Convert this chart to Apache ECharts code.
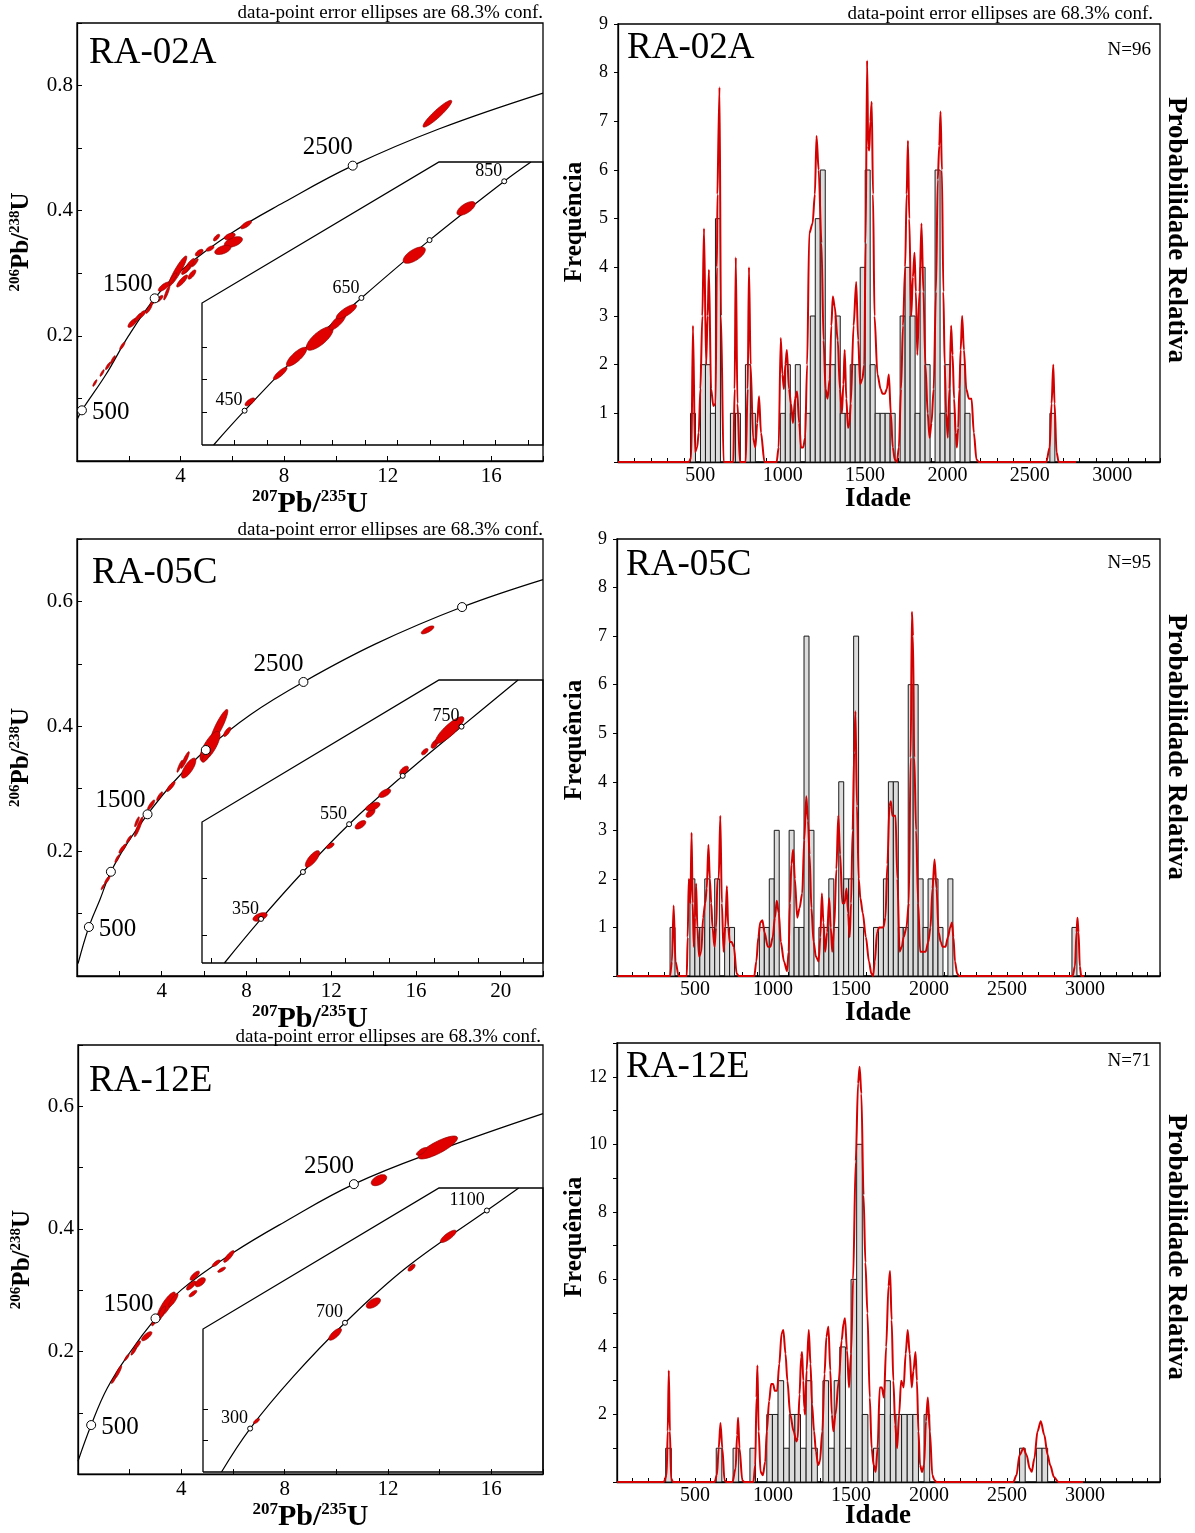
<!DOCTYPE html>
<html><head><meta charset="utf-8">
<script src="https://cdn.jsdelivr.net/npm/echarts@6/dist/echarts.min.js"></script>
<style>html,body{margin:0;padding:0;background:#fff}#c{width:1195px;height:1533px}</style>
</head><body><div id="c"></div>
<script>
// ================= DATA =================
const sampleNames = ['RA-02A', 'RA-05C', 'RA-12E'];
const sampleN = ['N=96', 'N=95', 'N=71'];
const noteText = 'data-point error ellipses are 68.3% conf.';
const xTitleParts = ['207', 'Pb/', '235', 'U'];
const yTitleParts = ['206', 'Pb/', '238', 'U'];
const freqTitle = 'Frequência';
const probTitle = 'Probabilidade Relativa';
const ageTitle = 'Idade';

// ---- Concordia diagrams (main) : [207Pb/235U, 206Pb/238U]
const l1Concordia = [[0,0.066],[0.19,0.081],[1.13,0.139],[1.99,0.2],[3.0,0.26],[4.01,0.304],[6.0,0.365],[7.98,0.413],[10.65,0.472],[14.0,0.531],[18.0,0.588]];
const l2Concordia = [[0.05,0.02],[0.56,0.0785],[1.09,0.123],[1.6,0.167],[2.4,0.214],[3.33,0.259],[4.6,0.312],[6.08,0.362],[8.2,0.419],[10.69,0.471],[14.1,0.532],[18.18,0.591],[22,0.635]];
const l3Concordia = [[0,0.021],[0.51,0.08],[1.13,0.14],[2.0,0.198],[3.0,0.254],[4.01,0.301],[6.0,0.361],[7.98,0.411],[10.68,0.473],[14.0,0.529],[18.0,0.588]];
// markers [x, y, age Ma]
const l1Markers = [[0.19,0.081,500],[3.0,0.26,1500],[10.65,0.472,2500]];
const l2Markers = [[0.56,0.0785,500],[1.6,0.167,1000],[3.33,0.259,1500],[6.08,0.362,2000],[10.69,0.471,2500],[18.18,0.591,3000]];
const l3Markers = [[0.51,0.08,500],[3.0,0.254,1500],[10.68,0.473,2500]];
const l1LabeledAges = [500,1500,2500];
const l2LabeledAges = [500,1500,2500];
const l3LabeledAges = [500,1500,2500];
// ellipses [x, y, sx, sy, rho]
const l1Ellipses = [[13.92,0.555,0.556,0.0214,0.93],[6.53,0.3775,0.21,0.0063,0.75],[6.04,0.350,0.35,0.0085,0.5],[5.63,0.3374,0.31,0.0074,0.5],[5.39,0.357,0.12,0.0053,0.7],[5.9,0.359,0.21,0.0053,0.5],[5.14,0.3396,0.15,0.0042,0.6],[3.89,0.3037,0.35,0.024,0.92],[4.33,0.3118,0.21,0.0118,0.85],[4.44,0.298,0.15,0.0074,0.75],[4.06,0.2877,0.21,0.0096,0.85],[3.36,0.2786,0.22,0.0074,0.75],[3.47,0.269,0.12,0.0118,0.9],[3.19,0.2594,0.13,0.0053,0.75],[2.15,0.2209,0.18,0.0074,0.75],[2.5,0.234,0.15,0.0063,0.75],[2.78,0.2433,0.12,0.0074,0.85],[1.39,0.162,0.09,0.0063,0.85],[0.97,0.1406,0.08,0.0053,0.85],[0.69,0.1246,0.08,0.0053,0.85],[4.72,0.333,0.15,0.0053,0.6],[4.56,0.317,0.12,0.0063,0.85],[1.2,0.152,0.1,0.006,0.85],[1.75,0.184,0.1,0.006,0.85],[2.35,0.229,0.13,0.0065,0.8],[2.95,0.256,0.13,0.008,0.85],[3.7,0.292,0.15,0.009,0.85],[4.2,0.306,0.16,0.008,0.8]];
const l2Ellipses = [[16.55,0.5544,0.30,0.0064,0.75],[6.7,0.400,0.42,0.027,0.9],[6.28,0.368,0.47,0.024,0.75],[7.09,0.391,0.17,0.0074,0.75],[6.1,0.352,0.2,0.0097,0.75],[5.27,0.333,0.34,0.016,0.75],[5.1,0.346,0.2,0.0134,0.9],[4.85,0.336,0.13,0.0097,0.9],[4.43,0.3035,0.2,0.008,0.85],[3.5,0.274,0.17,0.008,0.85],[2.91,0.239,0.2,0.016,0.92],[2.83,0.247,0.11,0.008,0.85],[2.15,0.204,0.17,0.0074,0.85],[1.9,0.188,0.11,0.0064,0.85],[1.43,0.154,0.13,0.0064,0.85],[1.23,0.143,0.09,0.0048,0.85],[3.9,0.288,0.14,0.007,0.85],[2.45,0.219,0.12,0.006,0.85]];
const l3Ellipses = [[13.93,0.5328,0.76,0.0187,0.82],[13.3,0.5264,0.2,0.0063,0.75],[11.65,0.4795,0.3,0.009,0.5],[5.84,0.355,0.2,0.0096,0.85],[5.35,0.344,0.15,0.0053,0.75],[5.56,0.3333,0.15,0.0042,0.75],[4.52,0.3237,0.18,0.0074,0.75],[4.73,0.3131,0.2,0.0074,0.55],[4.38,0.3077,0.18,0.0074,0.75],[4.45,0.2944,0.15,0.0053,0.75],[3.42,0.2757,0.35,0.0213,0.85],[3.69,0.2837,0.18,0.0107,0.85],[3.21,0.2608,0.18,0.0133,0.85],[2.66,0.225,0.2,0.0074,0.75],[2.17,0.2021,0.12,0.008,0.85],[1.89,0.1904,0.09,0.0053,0.85],[1.55,0.1664,0.14,0.0107,0.9],[1.38,0.1541,0.09,0.0063,0.85],[2.3,0.211,0.12,0.0065,0.8],[3.0,0.252,0.15,0.01,0.85]];
// tick labels
const l1XTickLabels = [4,8,12,16];
const l2XTickLabels = [4,8,12,16,20];
const l3XTickLabels = [4,8,12,16];
const l1YTickValues = [0.2,0.4,0.6]; const l1YTickLabels = ['0.2','0.4','0.8'];
const l2YTickValues = [0.2,0.4,0.6]; const l2YTickLabels = ['0.2','0.4','0.6'];
const l3YTickValues = [0.2,0.4,0.6]; const l3YTickLabels = ['0.2','0.4','0.6'];

// ---- Insets
const i1Concordia = [[0.4356,0.06],[0.5307,0.0705],[0.705,0.0885],[0.889,0.105],[1.098,0.1227],[1.327,0.1407],[1.409,0.1466]];
const i2Concordia = [[0.293,0.0403],[0.4166,0.0558],[0.5579,0.0723],[0.7137,0.0891],[0.8946,0.1061],[1.093,0.1234],[1.284,0.1398]];
const i3Concordia = [[0.154,0.020],[0.3473,0.0476],[0.640,0.0807],[0.9883,0.1148],[1.4033,0.1499],[1.9468,0.1861],[2.162,0.2004]];
const i1Markers = [[0.5307,0.0705,450],[0.889,0.105,650],[1.098,0.1227,750],[1.327,0.1407,850]];
const i2Markers = [[0.4166,0.0558,350],[0.5579,0.0723,450],[0.7137,0.0891,550],[0.8946,0.1061,650],[1.093,0.1234,750]];
const i3Markers = [[0.3473,0.0476,300],[0.9883,0.1148,700],[1.9468,0.1861,1100]];
const i1LabeledAges = [450,650,850];
const i2LabeledAges = [350,550,750];
const i3LabeledAges = [300,700,1100];
const i1Ellipses = [[0.547,0.0732,0.015,0.0012,0.7],[0.640,0.0819,0.021,0.0019,0.85],[0.690,0.087,0.031,0.0029,0.8],[0.761,0.0926,0.041,0.0036,0.75],[0.816,0.0977,0.025,0.0025,0.8],[0.843,0.1008,0.031,0.0022,0.8],[1.051,0.1181,0.034,0.0025,0.65],[1.21,0.1324,0.028,0.0021,0.65]];
const i2Ellipses = [[0.4132,0.0565,0.024,0.0015,0.5],[0.590,0.0769,0.024,0.0029,0.75],[0.650,0.0815,0.013,0.001,0.6],[0.752,0.0889,0.018,0.0015,0.6],[0.786,0.0930,0.015,0.0015,0.6],[0.794,0.0953,0.024,0.0015,0.55],[0.834,0.100,0.02,0.0015,0.6],[0.899,0.108,0.015,0.0015,0.6],[0.969,0.1146,0.011,0.0011,0.6],[1.0025,0.1173,0.012,0.0015,0.6],[1.053,0.1222,0.048,0.0047,0.85]];
const i3Ellipses = [[0.3905,0.0524,0.02,0.0016,0.7],[0.9216,0.1075,0.043,0.0038,0.75],[1.180,0.1273,0.048,0.0033,0.55],[1.438,0.1498,0.024,0.0022,0.65],[1.686,0.1697,0.053,0.0039,0.8]];
const i1XTicks = [0.5,0.6,0.7,0.8,0.9,1.0,1.1,1.2,1.3,1.4];
const i1YTicks = [0.07,0.08,0.09];
const i2XTicks = [0.25,0.4,0.55,0.7,0.85,1.0,1.15,1.3];
const i2YTicks = [0.05,0.07];
const i3XTicks = [];
const i3YTicks = [0.04,0.06];

// ---- Histograms (age in Ma) : bin start, bin width, counts
const r1BinStart = 440, r1BinWidth = 30.3;
const r1Counts = [1,0,2,2,1,5,0,0,1,1,0,2,1,0,0,0,0,0,1,2,1,2,0,1,3,5,6,2,2,3,1,1,2,2,4,6,2,1,1,1,1,0,3,4,3,1,4,2,0,6,1,2,1,0,2,1,0,0,0,0,0,0,0,0,0,0,0,0,0,0,0,0,1];
const r2BinStart = 340, r2BinWidth = 31.8;
const r2Counts = [1,0,0,0,2,1,1,2,1,2,0,1,1,0,0,0,0,0,1,1,2,3,0,0,3,1,1,7,3,0,1,1,2,1,4,2,2,7,1,0,0,1,1,2,4,4,1,1,6,6,2,1,2,2,1,0,2,0,0,0,0,0,0,0,0,0,0,0,0,0,0,0,0,0,0,0,0,0,0,0,0,1];
const r3BinStart = 312, r3BinWidth = 36;
const r3Counts = [1,0,0,0,0,0,0,0,0,1,0,0,1,0,0,1,0,0,2,2,3,1,2,2,1,3,1,0,3,1,3,4,1,6,10,2,0,1,2,3,2,2,2,2,2,0,2,0,0,0,0,0,0,0,0,0,0,0,0,0,0,0,0,1,0,0,1,1];
// probability density curves [age, value]
const r1Pdp = [[0,0],[430,0],[445,0.1],[455,2.8],[468,0.2],[480,0.3],[490,0.6],[500,1.5],[512,3.0],[522,4.8],[535,2.0],[544,3.0],[552,3.95],[565,1.5],[579,1.15],[592,1.2],[600,4.0],[604,5.5],[608,5.5],[616,7.7],[625,3.0],[641,0],[700,0],[708,1.5],[715,4.2],[725,1.2],[740,0],[775,0],[787,1.5],[795,4.0],[805,2.0],[820,0.5],[834,0.3],[845,0.8],[856,1.35],[868,0.6],[889,0],[963,0],[975,0.3],[988,2.55],[998,1.8],[1007,1.5],[1016,2.0],[1025,2.3],[1038,1.5],[1050,1.2],[1062,0.8],[1075,1.3],[1087,1.45],[1100,0.8],[1111,0.3],[1124,0.3],[1136,0.5],[1148,2.0],[1161,4.7],[1181,4.9],[1195,5.5],[1205,6.7],[1218,6.0],[1235,4.5],[1248,2.5],[1260,1.5],[1272,1.3],[1285,1.7],[1295,2.8],[1304,3.4],[1315,3.2],[1334,2.5],[1347,1.5],[1359,1.0],[1368,1.6],[1376,2.3],[1386,1.3],[1396,0.7],[1405,0.8],[1413,1.2],[1430,2.8],[1446,3.7],[1458,2.5],[1470,1.6],[1483,1.7],[1495,2.0],[1503,4.5],[1512,8.25],[1519,6.5],[1525,6.4],[1532,7.0],[1540,7.4],[1548,5.5],[1557,3.0],[1575,1.8],[1594,1.5],[1606,1.4],[1619,1.4],[1632,1.5],[1644,1.8],[1656,1.0],[1668,0.3],[1680,0.05],[1693,0],[1705,0.3],[1718,1.5],[1730,2.8],[1743,4.0],[1752,5.5],[1760,6.6],[1768,5.0],[1780,3.0],[1790,3.8],[1800,4.3],[1808,3.5],[1817,2.2],[1830,3.5],[1842,4.9],[1854,3.5],[1866,2.0],[1880,1.0],[1891,0.5],[1903,0.8],[1916,1.5],[1930,3.5],[1941,5.8],[1950,6.5],[1958,7.2],[1966,6.0],[1975,3.5],[1983,2.0],[1992,1.0],[2002,0.5],[2012,1.5],[2022,2.8],[2031,2.2],[2040,1.3],[2050,0.6],[2057,0.3],[2065,0.7],[2072,1.5],[2080,2.3],[2089,3.0],[2100,2.3],[2114,1.5],[2130,1.3],[2146,1.3],[2160,0.6],[2176,0.05],[2190,0],[2600,0],[2620,0.3],[2632,1.2],[2642,2.0],[2650,1.2],[2662,0.2],[2675,0],[2780,0]];
const r2Pdp = [[0,0],[340,0],[352,0.3],[363,1.45],[375,0.3],[395,0],[447,0],[453,0.8],[460,2.0],[470,1.5],[478,2.95],[485,1.5],[492,0.6],[500,1.2],[507,1.9],[515,1.0],[526,0.4],[540,0.5],[552,1.2],[565,1.5],[575,1.8],[586,2.7],[595,2.0],[604,1.5],[612,1.0],[625,0.6],[635,1.0],[644,2.0],[652,2.0],[662,3.3],[672,1.5],[683,0.5],[694,1.0],[704,1.85],[713,1.0],[723,0.7],[735,0.7],[749,0.6],[767,0.05],[780,0],[880,0],[893,0.3],[906,0.8],[918,1.1],[932,1.15],[945,0.9],[967,0.6],[983,0.6],[998,0.8],[1012,1.2],[1024,1.55],[1037,1.3],[1050,0.7],[1070,0.3],[1090,0.1],[1100,0.5],[1108,1.5],[1118,2.3],[1129,2.6],[1140,2.0],[1155,1.2],[1170,1.4],[1187,1.7],[1200,2.8],[1213,3.7],[1224,3.2],[1234,2.5],[1246,1.4],[1260,0.7],[1275,0.4],[1292,0.3],[1303,0.8],[1313,1.7],[1323,1.1],[1334,0.5],[1347,0.9],[1360,1.6],[1370,1.0],[1379,0.5],[1392,1.0],[1406,2.2],[1418,3.3],[1430,2.5],[1444,1.5],[1458,1.5],[1471,1.8],[1481,1.3],[1491,0.8],[1500,1.5],[1510,3.0],[1520,4.6],[1528,5.45],[1538,3.5],[1549,2.0],[1560,1.6],[1575,1.3],[1595,0.8],[1615,0.3],[1630,0.05],[1641,0],[1652,0.3],[1667,0.9],[1680,1.0],[1694,1.0],[1707,1.0],[1720,1.2],[1733,2.3],[1746,3.5],[1755,3.6],[1765,3.3],[1775,3.3],[1785,3.3],[1797,2.0],[1811,0.5],[1825,0.6],[1837,0.8],[1855,1.0],[1870,1.5],[1882,4.5],[1890,7.5],[1897,7.0],[1905,4.5],[1917,3.0],[1930,1.5],[1943,0.5],[1960,0.5],[1978,0.5],[1995,0.7],[2009,1.0],[2022,1.8],[2035,2.4],[2048,1.8],[2061,0.9],[2075,0.7],[2087,0.6],[2105,0.6],[2121,0.8],[2135,1.0],[2147,1.1],[2156,0.8],[2166,0.3],[2180,0.05],[2192,0],[2920,0],[2935,0.2],[2945,0.9],[2951,1.2],[2958,0.9],[2966,0.2],[2975,0],[2993,0]];
const r3Pdp = [[0,0],[300,0],[318,0.2],[325,1.5],[332,3.3],[339,1.5],[347,0.1],[360,0],[625,0],[640,0.2],[652,1.0],[663,1.75],[675,1.0],[689,0.05],[700,0],[740,0],[760,0.4],[770,1.4],[776,1.9],[785,1.0],[803,0.05],[815,0],[874,0],[886,0.5],[894,2.5],[900,3.45],[908,1.5],[920,0.3],[935,0.2],[950,0.6],[960,1.5],[975,2.4],[988,2.9],[1000,2.9],[1012,2.7],[1026,2.7],[1040,3.5],[1055,4.4],[1066,4.5],[1080,3.8],[1092,3.0],[1110,2.0],[1132,1.5],[1150,1.2],[1158,1.3],[1170,2.6],[1180,3.7],[1186,3.85],[1194,3.0],[1200,2.2],[1206,2.0],[1215,3.3],[1229,4.5],[1240,3.5],[1250,2.3],[1263,1.5],[1275,0.9],[1289,0.5],[1300,0.6],[1316,1.5],[1330,3.2],[1342,4.3],[1355,4.6],[1367,3.3],[1377,2.0],[1387,1.5],[1400,2.0],[1421,3.0],[1440,4.2],[1452,4.7],[1461,4.85],[1474,3.9],[1487,2.8],[1500,3.8],[1513,6.0],[1530,9.5],[1545,11.8],[1555,12.3],[1566,11.5],[1580,8.5],[1592,6.5],[1605,5.0],[1620,2.5],[1632,1.0],[1645,0.5],[1658,0.3],[1670,1.0],[1684,2.8],[1697,2.8],[1711,2.5],[1725,4.0],[1740,5.8],[1750,6.25],[1760,4.8],[1771,3.0],[1783,1.7],[1795,1.0],[1808,2.0],[1821,3.0],[1830,2.9],[1837,2.8],[1850,3.8],[1863,4.5],[1876,3.8],[1889,2.8],[1900,3.3],[1913,3.85],[1922,3.0],[1932,1.5],[1942,0.5],[1955,0.3],[1968,0.5],[1980,1.8],[1992,2.5],[2005,1.5],[2021,0.2],[2035,0.05],[2047,0],[2540,0],[2560,0.2],[2580,0.8],[2605,1.0],[2625,0.8],[2645,0.4],[2658,0.3],[2675,0.7],[2695,1.5],[2716,1.8],[2738,1.4],[2760,0.8],[2776,0.5],[2800,0.15],[2829,0],[2987,0]];
const rXTickLabels = [500,1000,1500,2000,2500,3000];
const r1YTickLabels = [1,2,3,4,5,6,7,8,9];
const r2YTickLabels = [1,2,3,4,5,6,7,8,9];
const r3YTickLabels = [2,4,6,8,10,12];

// ================= BUILD =================
const FONT = "'Liberation Serif','DejaVu Serif','Times New Roman',serif";
const grids = [], xAxes = [], yAxes = [], series = [], graphics = [];
const near = (arr, v) => arr.findIndex(t => Math.abs(t - v) < 1e-6);
const rich = (big, small) => ({
  b: {fontFamily: FONT, fontWeight: 'bold', fontSize: big, lineHeight: big + 2, color: '#000'},
  s: {fontFamily: FONT, fontWeight: 'bold', fontSize: small, lineHeight: small, verticalAlign: 'top', color: '#000'}
});
const isoName = parts => '{s|' + parts[0] + '}{b|' + parts[1] + '}{s|' + parts[2] + '}{b|' + parts[3] + '}';
const blackLine = {show: true, onZero: false, lineStyle: {color: '#000', width: 1.3}};

function addPair(rect, xOpt, yOpt) {
  grids.push(rect); const g = grids.length - 1;
  xAxes.push(Object.assign({gridIndex: g, type: 'value'}, xOpt));
  yAxes.push(Object.assign({gridIndex: g, type: 'value'}, yOpt));
  return {g, xi: xAxes.length - 1, yi: yAxes.length - 1};
}
function ellipseSeries(ax, data, z) {
  return {type: 'custom', xAxisIndex: ax.xi, yAxisIndex: ax.yi, z: z, silent: true, clip: false,
    encode: {x: 0, y: 1}, data: data,
    renderItem(params, api) {
      const cx = api.value(0), cy = api.value(1), sx = api.value(2), sy = api.value(3), r = api.value(4);
      const k = Math.sqrt(1 - r * r), pts = [];
      for (let i = 0; i < 48; i++) {
        const t = i / 48 * 2 * Math.PI;
        pts.push(api.coord([cx + sx * Math.cos(t), cy + sy * (r * Math.cos(t) + k * Math.sin(t))]));
      }
      return {type: 'polygon', shape: {points: pts}, style: {fill: '#e10000', stroke: '#8c0000', lineWidth: 0.7}};
    }};
}
function concordiaSeries(ax, data, z) {
  return {type: 'line', xAxisIndex: ax.xi, yAxisIndex: ax.yi, z: z, data: data, smooth: 0.4, symbol: 'none',
    silent: true, lineStyle: {color: '#000', width: 1.2}};
}
function markerSeries(ax, data, labeled, size, fontSize, labelCfg, z) {
  return {type: 'scatter', xAxisIndex: ax.xi, yAxisIndex: ax.yi, z: z, symbol: 'circle', symbolSize: size, silent: true,
    itemStyle: {color: '#fff', borderColor: '#000', borderWidth: 1, opacity: 1},
    data: data.map(m => ({value: m, label: Object.assign({show: labeled.includes(m[2])}, labelCfg(m[2]))})),
    label: {fontFamily: FONT, fontSize: fontSize, color: '#000', formatter: p => String(p.value[2])}};
}
const mainLabelCfg = age => age === 500 ? {position: 'right', distance: 5, offset: [0, 2]}
  : age === 1500 ? {position: 'left', distance: 5, offset: [8, -14]} : {position: 'left', distance: 5, offset: [10, -18]};
const insetLabelCfg = () => ({position: 'left', distance: 4, offset: [5, -10]});

const leftPanels = [
  {rect: {left: 77, top: 23, width: 466, height: 438}, xMax: 18, xLab: l1XTickLabels, yVal: l1YTickValues, yLab: l1YTickLabels,
   conc: l1Concordia, mk: l1Markers, lab: l1LabeledAges, ell: l1Ellipses,
   inset: {rect: {left: 202, top: 162, width: 341, height: 283}, xMin: 0.4, xMax: 1.446, yMin: 0.06, yMax: 0.1466,
     xT: i1XTicks, yT: i1YTicks, conc: i1Concordia, mk: i1Markers, lab: i1LabeledAges, ell: i1Ellipses,
     frame: [[202,445],[202,303],[439,162],[543,162],[543,445],[202,445]]}},
  {rect: {left: 77, top: 539, width: 466, height: 437}, xMax: 22, xLab: l2XTickLabels, yVal: l2YTickValues, yLab: l2YTickLabels,
   conc: l2Concordia, mk: l2Markers, lab: l2LabeledAges, ell: l2Ellipses,
   inset: {rect: {left: 202, top: 680, width: 341, height: 283}, xMin: 0.2173, xMax: 1.368, yMin: 0.0403, yMax: 0.1398,
     xT: i2XTicks, yT: i2YTicks, conc: i2Concordia, mk: i2Markers, lab: i2LabeledAges, ell: i2Ellipses,
     frame: [[202,963],[202,822],[439,680],[543,680],[543,963],[202,963]]}},
  {rect: {left: 78, top: 1045, width: 465, height: 437}, xMax: 18, xLab: l3XTickLabels, yVal: l3YTickValues, yLab: l3YTickLabels,
   conc: l3Concordia, mk: l3Markers, lab: l3LabeledAges, ell: l3Ellipses,
   inset: {rect: {left: 203, top: 1188, width: 340, height: 284}, xMin: 0.029, xMax: 2.326, yMin: 0.020, yMax: 0.2004,
     xT: i3XTicks, yT: i3YTicks, conc: i3Concordia, mk: i3Markers, lab: i3LabeledAges, ell: i3Ellipses,
     frame: [[203,1472],[203,1329],[439,1188],[543,1188],[543,1472],[203,1472]]}}
];

const insetTick = vals => vals.length ? {show: true, inside: true, length: 5, customValues: vals, lineStyle: {color: '#000', width: 1}} : {show: false};

leftPanels.forEach(p => {
  const ax = addPair(Object.assign({show: true, borderColor: '#000', borderWidth: 1.3, backgroundColor: 'rgba(0,0,0,0)'}, p.rect),
    {min: 0, max: p.xMax, interval: 2, axisLine: blackLine,
     axisTick: {show: true, inside: true, length: 5, lineStyle: {color: '#000', width: 1}}, splitLine: {show: false},
     axisLabel: {color: '#000', fontFamily: FONT, fontSize: 21, margin: 5, showMinLabel: true, showMaxLabel: true,
       formatter: v => near(p.xLab, v) >= 0 ? String(v) : ''},
     name: isoName(xTitleParts), nameLocation: 'middle', nameGap: 19, nameTextStyle: {rich: rich(30, 17)}},
    {min: 0, max: 0.7, interval: 0.1, axisLine: blackLine,
     axisTick: {show: true, inside: true, length: 5, lineStyle: {color: '#000', width: 1}}, splitLine: {show: false},
     axisLabel: {color: '#000', fontFamily: FONT, fontSize: 21, margin: 4,
       formatter: v => { const i = near(p.yVal, v); return i >= 0 ? p.yLab[i] : ''; }},
     name: isoName(yTitleParts), nameLocation: 'middle', nameRotate: 90, nameGap: 42, nameTextStyle: {rich: rich(25, 15)}});
  series.push(concordiaSeries(ax, p.conc, 2));
  series.push(ellipseSeries(ax, p.ell, 3));
  series.push(markerSeries(ax, p.mk, p.lab, 9, 25, mainLabelCfg, 4));

  const q = p.inset;
  const ia = addPair(q.rect,
    {min: q.xMin, max: q.xMax, z: 8, axisLine: {show: false}, splitLine: {show: false}, axisLabel: {show: false}, axisTick: insetTick(q.xT)},
    {min: q.yMin, max: q.yMax, z: 8, axisLine: {show: false}, splitLine: {show: false}, axisLabel: {show: false}, axisTick: insetTick(q.yT)});
  series.push(concordiaSeries(ia, q.conc, 8));
  series.push(ellipseSeries(ia, q.ell, 9));
  series.push(markerSeries(ia, q.mk, q.lab, 5, 18, insetLabelCfg, 10));
  graphics.push({type: 'polyline', z: 20, silent: true, shape: {points: q.frame},
    style: {stroke: '#000', lineWidth: 1.3, fill: null}});
});

const rightPanels = [
  {rect: {left: 618, top: 24, width: 542, height: 438}, xMax: 3290, yMax: 9, yLab: r1YTickLabels,
   start: r1BinStart, width: r1BinWidth, counts: r1Counts, pdp: r1Pdp, freqY: 222, probY: 230, ageX: 878, ageY: 499},
  {rect: {left: 617, top: 539, width: 543, height: 437}, xMax: 3480, yMax: 9, yLab: r2YTickLabels,
   start: r2BinStart, width: r2BinWidth, counts: r2Counts, pdp: r2Pdp, freqY: 740, probY: 747, ageX: 878, ageY: 1013},
  {rect: {left: 617, top: 1043, width: 543, height: 439}, xMax: 3480, yMax: 13, yLab: r3YTickLabels,
   start: r3BinStart, width: r3BinWidth, counts: r3Counts, pdp: r3Pdp, freqY: 1237, probY: 1247, ageX: 878, ageY: 1516}
];
rightPanels.forEach(p => {
  const ax = addPair(Object.assign({show: true, borderColor: '#000', borderWidth: 1.3, backgroundColor: 'rgba(0,0,0,0)'}, p.rect),
    {min: 0, max: p.xMax, interval: 100, axisLine: blackLine,
     axisTick: {show: true, inside: true, length: 4, lineStyle: {color: '#000', width: 1}}, splitLine: {show: false},
     axisLabel: {color: '#000', fontFamily: FONT, fontSize: 20, margin: 4, formatter: v => near(rXTickLabels, v) >= 0 ? String(v) : ''}},
    {min: 0, max: p.yMax, interval: 1, axisLine: blackLine,
     axisTick: {show: true, inside: false, length: 4, lineStyle: {color: '#000', width: 1}}, splitLine: {show: false},
     axisLabel: {color: '#000', fontFamily: FONT, fontSize: 18, margin: 10, formatter: v => near(p.yLab, v) >= 0 ? String(v) : ''}});
  const bins = p.counts.map((c, i) => [p.start + i * p.width, p.start + (i + 1) * p.width, c]).filter(d => d[2] > 0);
  series.push({type: 'custom', xAxisIndex: ax.xi, yAxisIndex: ax.yi, z: 2, silent: true, encode: {x: [0, 1], y: 2}, data: bins,
    renderItem(params, api) {
      const a = api.coord([api.value(0), api.value(2)]), b = api.coord([api.value(1), 0]);
      return {type: 'rect', shape: {x: a[0], y: a[1], width: b[0] - a[0], height: b[1] - a[1]},
        style: {fill: '#dcdcdc', stroke: '#1a1a1a', lineWidth: 1}};
    }});
  series.push({type: 'line', xAxisIndex: ax.xi, yAxisIndex: ax.yi, z: 4, data: p.pdp, smooth: 0.3, smoothMonotone: 'x',
    symbol: 'none', silent: true, lineStyle: {color: '#d40000', width: 2}});
  graphics.push(txt(575, p.freqY, freqTitle, 25, 'center', 'bold', Math.PI / 2));
  graphics.push(txt(1176, p.probY, probTitle, 27, 'center', 'bold', -Math.PI / 2));
  graphics.push(txt(p.ageX, p.ageY, ageTitle, 27, 'center', 'bold'));
});

// texts
function txt(x, y, text, size, align, weight, rot) {
  return {type: 'text', x: x, y: y, rotation: rot || 0, z: 30, silent: true,
    style: {text: text, font: (weight || 'normal') + ' ' + size + 'px ' + FONT, fill: '#000', textAlign: align, textVerticalAlign: 'middle'}};
}
graphics.push(txt(543, 13, noteText, 19, 'right'));
graphics.push(txt(1153, 14, noteText, 19, 'right'));
graphics.push(txt(543, 530, noteText, 19, 'right'));
graphics.push(txt(541, 1037, noteText, 19, 'right'));
graphics.push(txt(89, 53, sampleNames[0], 37, 'left'));
graphics.push(txt(627, 48, sampleNames[0], 37, 'left'));
graphics.push(txt(92, 573, sampleNames[1], 37, 'left'));
graphics.push(txt(626, 565, sampleNames[1], 37, 'left'));
graphics.push(txt(89, 1081, sampleNames[2], 37, 'left'));
graphics.push(txt(626, 1067, sampleNames[2], 37, 'left'));
graphics.push(txt(1151, 50, sampleN[0], 19, 'right'));
graphics.push(txt(1151, 563, sampleN[1], 19, 'right'));
graphics.push(txt(1151, 1061, sampleN[2], 19, 'right'));

const chart = echarts.init(document.getElementById('c'), null, {renderer: 'canvas'});
chart.setOption({animation: false, backgroundColor: '#fff', grid: grids, xAxis: xAxes, yAxis: yAxes, series: series,
  graphic: {elements: graphics}});
</script></body></html>
